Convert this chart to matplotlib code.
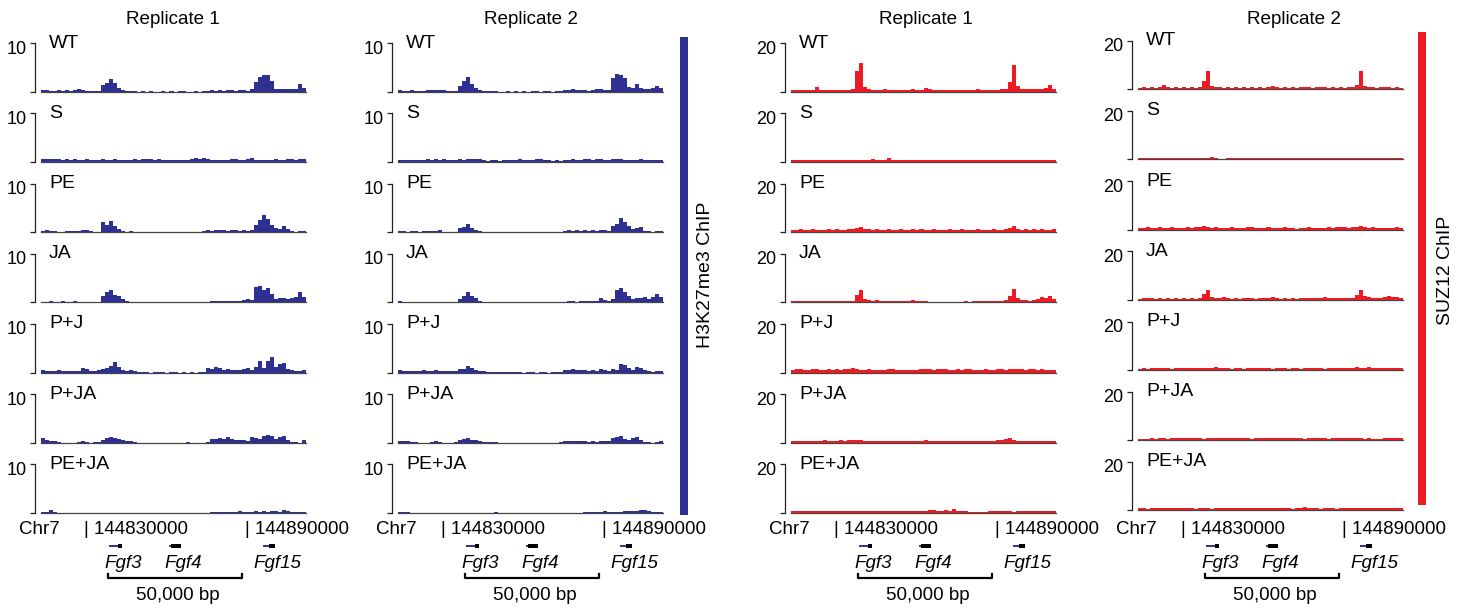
import numpy as np
import matplotlib.pyplot as plt
from matplotlib.patches import Rectangle
from matplotlib.transforms import ScaledTranslation

plt.rcParams['font.family'] = ['Liberation Sans', 'DejaVu Sans']

# ---- data -------------------------------------------------------------
conditions = ["WT", "S", "PE", "JA", "P+J", "P+JA", "PE+JA"]

region_start = 144814000
region_end = 144912700
coord_marks = [144830000, 144890000]

gene_names = ["Fgf3", "Fgf4", "Fgf15"]
gene_starts = [144839300, 144861700, 144896700]
gene_ends = [144844200, 144866200, 144901200]
gene_cds_starts = [144842600, 144862400, 144899000]   # black (coding) part
scale_bar = [144839000, 144889000]
scale_label = "50,000 bp"

h3_max = 10
suz_max = 20

h3_rep1 = {
    "WT": [0.3, 0.3, 0.2, 0.2, 0.3, 0.2, 0.3, 0.2, 0.4, 0.5, 0.3, 0.2, 0.2, 0.1, 0.2,
           1.4, 1.8, 2.6, 1.8, 0.8, 0.4, 0.2,
           0.1, 0.1, 0.0, 0.1, 0.0, 0.1, 0.0, 0.0, 0.1, 0.0, 0.1, 0.0, 0.1, 0.1, 0.0, 0.0, 0.1, 0.0, 0.1,
           0.2, 0.4, 0.2, 0.3, 0.2, 0.4, 0.3, 0.2, 0.4, 0.3, 0.2,
           0.5, 2.0, 3.0, 3.5, 3.4, 2.2, 0.6, 0.5, 0.6, 0.5, 0.5, 0.6, 1.5, 0.8],
    "S": [0.5, 0.6, 0.7, 0.5, 0.6, 0.4, 0.5, 0.4, 0.5, 0.3, 0.4, 0.5, 0.3, 0.4, 0.3, 0.5, 0.4, 0.3,
          0.6, 0.4, 0.3, 0.4, 0.3, 0.5, 0.4, 0.6, 0.5, 0.6, 0.4, 0.5, 0.4, 0.3, 0.4, 0.3, 0.4, 0.3,
          0.4, 0.6, 0.9, 0.6, 0.8, 0.5, 0.3, 0.4, 0.3, 0.4, 0.3, 0.6, 0.5, 0.4, 0.3, 0.7, 0.9, 0.4,
          0.3, 0.3, 0.4, 0.3, 0.5, 0.4, 0.3, 0.5, 0.6, 0.4, 0.5, 0.6],
    "PE": [0.3, 0.4, 0.3, 0.2, 0.1, 0.0, 0.2, 0.3, 0.2, 0.3, 0.4, 0.5, 0.2, 0.0, 0.1,
           2.0, 1.4, 2.2, 1.2, 0.6, 0.3, 0.1,
           0.2, 0.1, 0.0, 0.0, 0.0, 0.0, 0.0, 0.0, 0.0, 0.1, 0.0, 0.0, 0.0, 0.0, 0.0, 0.0, 0.0, 0.0,
           0.3, 0.4, 0.3, 0.5, 0.4, 0.4, 0.3, 0.5, 0.4, 0.3, 0.5, 0.3, 0.4,
           1.5, 2.4, 3.6, 2.8, 1.4, 0.9, 0.6, 1.2, 0.7, 0.3, 0.0, 0.3, 0.3],
    "JA": [0.1, 0.1, 0.2, 0.1, 0.1, 0.2, 0.1, 0.1, 0.2, 0.1, 0.1, 0.1, 0.0, 0.0, 0.1,
           1.2, 2.2, 2.6, 1.5, 1.3, 0.6, 0.2,
           0.1, 0.0, 0.0, 0.0, 0.0, 0.0, 0.0, 0.0, 0.0, 0.0, 0.0, 0.0, 0.0, 0.0, 0.0, 0.0, 0.0, 0.0,
           0.0, 0.1,
           0.3, 0.2, 0.3, 0.3, 0.2, 0.3, 0.2, 0.3, 0.5, 0.6, 0.4,
           3.2, 3.4, 2.6, 3.0, 1.8, 0.6, 0.8, 0.9, 0.7, 0.8, 1.0, 2.2, 1.0],
    "P+J": [0.5, 0.4, 0.4, 0.3, 0.5, 0.4, 0.3, 0.4, 0.3, 0.4, 1.0, 0.8, 0.4, 0.3, 0.6,
            0.8, 0.9, 1.4, 2.2, 1.2, 0.6, 0.4, 0.5, 0.3,
            0.1, 0.1, 0.1, 0.0, 0.1, 0.1, 0.1, 0.0, 0.1, 0.1, 0.0, 0.1, 0.0, 0.1, 0.0, 0.1, 0.1,
            1.0, 0.7, 1.2, 1.0, 0.6, 0.7, 0.5, 0.6, 0.5, 0.7, 0.9, 0.6,
            1.2, 2.4, 1.0, 2.4, 3.2, 1.2, 1.8, 1.9, 0.7, 0.5, 0.3, 0.4, 0.5],
    "P+JA": [0.9, 0.6, 0.4, 0.4, 0.1, 0.0, 0.0, 0.0, 0.0, 0.1, 0.4, 0.2, 0.0, 0.1, 0.1,
             0.6, 0.9, 1.2, 1.0, 0.8, 0.6, 0.3, 0.3, 0.1, 0.0,
             0.0, 0.0, 0.0, 0.0, 0.0, 0.0, 0.0, 0.0, 0.0, 0.0, 0.0, 0.1, 0.0, 0.0, 0.0, 0.0, 0.1,
             0.7, 0.8, 0.9, 0.7, 1.2, 0.7, 0.6, 0.6, 0.5, 0.4,
             1.1, 0.9, 0.8, 1.4, 1.6, 1.4, 0.8, 1.1, 1.3, 0.6, 0.2, 0.1, 0.0, 0.5],
    "PE+JA": [0.2, 0.2, 0.5, 0.1, 0.0,
              0.0, 0.0, 0.0, 0.0, 0.0, 0.0, 0.0, 0.0, 0.0, 0.0, 0.0, 0.0, 0.0, 0.0, 0.0, 0.0, 0.0,
              0.0, 0.0, 0.0, 0.0, 0.0, 0.0, 0.0, 0.0, 0.0, 0.0, 0.0, 0.0, 0.0, 0.0, 0.0, 0.0, 0.0,
              0.0, 0.0, 0.0,
              0.2, 0.1, 0.2, 0.1, 0.1, 0.2, 0.1, 0.3, 0.1, 0.2, 0.1, 0.3, 0.2, 0.3, 0.2, 0.3, 0.4,
              0.2, 0.5, 0.3, 0.2, 0.1, 0.2, 0.2],
}

# H3K27me3 ChIP, replicate 2
h3_rep2 = {
    "WT": [0.3, 0.2, 0.2, 0.3, 0.2, 0.2, 0.2, 0.3, 0.4, 0.3, 0.4, 0.3, 0.2, 0.1, 0.1,
           1.2, 2.2, 3.0, 1.6, 0.7, 0.3, 0.2,
           0.1, 0.1, 0.1, 0.0, 0.0, 0.1, 0.0, 0.1, 0.0, 0.1, 0.0, 0.1, 0.1, 0.0, 0.1, 0.1, 0.0, 0.1, 0.2,
           0.3, 0.4, 0.6, 0.4, 0.3, 0.3, 0.2, 0.3, 0.5, 0.6, 0.4, 0.3,
           2.8, 3.6, 3.5, 2.8, 1.0, 0.8, 1.5, 0.8, 0.6, 0.5, 0.8, 1.1, 0.8],
    "S": [0.4, 0.3, 0.4, 0.3, 0.4, 0.4, 0.3, 0.5, 0.4, 0.6, 0.3, 0.5, 0.4, 0.3, 0.3, 0.5, 0.3, 0.5,
          0.6, 0.7, 0.6, 0.3, 0.2, 0.3, 0.3, 0.2, 0.3, 0.4, 0.3, 0.3, 0.5, 0.4, 0.3, 0.4, 0.5, 0.6,
          0.4, 0.3, 0.2, 0.3, 0.2, 0.3, 0.4, 0.5, 0.4, 0.3, 0.5, 0.6, 0.4, 0.7, 0.5, 0.3, 0.4, 0.6,
          0.7, 0.5, 0.4, 0.3, 0.4, 0.3, 0.5, 0.4, 0.3, 0.4, 0.3, 0.4],
    "PE": [0.3, 0.2, 0.1, 0.2, 0.2, 0.1, 0.2, 0.3, 0.2, 0.3, 0.4, 0.0, 0.0, 0.0, 0.0,
           0.9, 1.0, 1.6, 0.9, 0.4, 0.3, 0.1,
           0.1, 0.0, 0.1, 0.0, 0.0, 0.0, 0.0, 0.0, 0.0, 0.0, 0.0, 0.0, 0.0, 0.0, 0.0, 0.0, 0.0, 0.0, 0.1,
           0.3, 0.4, 0.3, 0.4, 0.3, 0.5, 0.3, 0.4, 0.3, 0.5, 0.4, 0.3,
           1.2, 1.6, 3.0, 2.0, 1.2, 0.6, 0.8, 1.1, 0.3, 0.2, 0.1, 0.2, 0.2],
    "JA": [0.2, 0.1, 0.1, 0.1, 0.1, 0.1, 0.1, 0.1, 0.1, 0.1, 0.1, 0.1, 0.1, 0.1, 0.1,
           0.6, 1.4, 2.2, 1.2, 0.8, 0.3, 0.1,
           0.0, 0.1, 0.0, 0.0, 0.0, 0.0, 0.0, 0.0, 0.0, 0.0, 0.0, 0.0, 0.0, 0.0, 0.0, 0.0, 0.0, 0.0,
           0.0, 0.1,
           0.2, 0.2, 0.1, 0.2, 0.3, 0.2, 0.2, 0.3, 0.8, 0.4, 0.3, 0.6,
           2.6, 3.0, 2.2, 1.4, 0.6, 0.8, 0.9, 1.0, 0.7, 1.0, 1.8, 1.0],
    "P+J": [0.5, 0.4, 0.3, 0.3, 0.3, 0.4, 0.5, 0.3, 0.4, 0.5, 0.4, 0.3, 0.4, 0.3, 0.4,
            0.8, 0.7, 1.3, 1.0, 0.5, 0.4, 0.3,
            0.2, 0.1, 0.1, 0.1, 0.1, 0.1, 0.1, 0.1, 0.1, 0.0, 0.1, 0.1, 0.0, 0.1, 0.1, 0.0, 0.1, 0.1, 0.2,
            0.5, 0.6, 0.7, 0.5, 0.6, 0.5, 0.4, 0.5, 0.4, 0.8, 0.5, 0.4, 0.7, 0.6,
            1.8, 1.5, 1.0, 0.6, 1.1, 0.9, 0.5, 0.3, 0.2, 0.3, 0.3],
    "P+JA": [0.4, 0.4, 0.4, 0.2, 0.1, 0.0, 0.0, 0.0, 0.2, 0.3, 0.1, 0.0, 0.0, 0.0, 0.1,
             0.5, 0.7, 0.9, 0.6, 0.5, 0.3, 0.1,
             0.2, 0.1, 0.2, 0.0, 0.0, 0.0, 0.0, 0.0, 0.0, 0.0, 0.0, 0.0, 0.0, 0.0, 0.0, 0.0, 0.0, 0.0, 0.1,
             0.3, 0.4, 0.3, 0.4, 0.3, 0.3, 0.2, 0.3, 0.2, 0.4, 0.3, 0.4,
             0.9, 1.1, 1.3, 0.8, 0.6, 1.0, 1.1, 0.6, 0.2, 0.1, 0.0, 0.2, 0.3],
    "PE+JA": [0.1, 0.1, 0.1, 0.0, 0.0,
              0.0, 0.0, 0.0, 0.0, 0.0, 0.0, 0.0, 0.0, 0.0, 0.0, 0.0, 0.0, 0.0, 0.0, 0.0, 0.0, 0.0,
              0.0, 0.0, 0.1, 0.0, 0.0, 0.0, 0.0, 0.0, 0.0, 0.0, 0.0, 0.0, 0.0, 0.0, 0.0, 0.0, 0.0,
              0.0, 0.0, 0.0, 0.0, 0.0, 0.0, 0.0,
              0.2, 0.2, 0.1, 0.1, 0.2, 0.3, 0.2, 0.1, 0.2, 0.2, 0.3, 0.4, 0.3, 0.4, 0.5, 0.6,
              0.3, 0.2, 0.1, 0.1],
}

# SUZ12 ChIP, replicate 1
suz_rep1 = {
    "WT": [0.7, 0.9, 0.6, 0.8, 0.9, 0.6, 1.8, 0.9, 0.7, 0.9, 0.6, 0.8, 0.9, 0.6, 0.8,
           1.0, 8.5, 12.0, 1.8,
           1.0, 0.9, 0.8, 0.9, 1.0, 0.8, 0.6, 0.9, 0.8, 0.9, 0.8, 1.0, 0.8, 0.9, 1.6, 1.0, 0.8,
           0.6, 0.9, 0.6, 0.5, 0.6, 0.8, 0.9, 0.6, 0.8, 0.9, 1.0, 0.8, 0.9, 0.6, 0.8, 0.9, 1.0, 1.3,
           4.0, 11.0, 2.5,
           1.2, 1.1, 1.0, 1.2, 1.1, 1.3, 1.5, 2.8, 1.3],
    "S": [0.8, 0.6, 0.8, 0.6, 0.8, 0.6, 0.8, 0.6, 0.6, 0.8, 0.6, 0.8, 0.6, 0.6, 0.8, 0.6, 0.8,
          0.6, 0.8, 0.9, 1.0, 0.8, 0.6, 0.9, 1.6, 0.9, 0.8, 0.6, 0.8, 0.6, 0.8, 0.6, 0.8, 0.6,
          0.8, 0.9, 0.8, 0.6, 0.8, 0.6, 0.8, 0.6, 0.8, 0.9, 0.6, 0.8, 0.6, 0.8, 0.9, 0.6, 0.8,
          0.6, 0.8, 0.6, 0.8, 0.6, 0.8, 0.6, 0.8, 0.6, 0.8, 0.6, 0.8, 0.6, 0.8, 0.6],
    "PE": [1.0, 0.8, 1.2, 0.8, 1.0, 1.1, 0.8, 1.0, 0.8, 1.1, 1.0, 1.2, 0.8, 1.0, 1.1,
           1.3, 1.7, 2.0, 1.1,
           1.1, 1.0, 1.2, 0.8, 1.0, 1.1, 0.8, 1.0, 1.2, 0.8, 1.0, 1.1, 0.8, 1.2, 1.0, 0.8, 1.1,
           1.0, 0.8, 1.0, 1.1, 0.8, 1.0, 1.1, 1.0, 0.8, 1.0, 1.1, 0.8, 1.0, 0.8, 1.1, 1.0, 0.8, 1.1,
           1.8, 2.6, 1.3,
           1.0, 1.1, 0.8, 1.2, 1.0, 1.1, 0.8, 1.0, 1.1],
    "JA": [0.6, 0.4, 0.6, 0.4, 0.6, 0.4, 0.6, 0.4, 0.6, 0.4, 0.6, 0.4, 0.6, 0.4, 0.6,
           0.7, 3.0, 5.0, 1.2,
           0.9, 0.7, 1.0, 0.6, 0.4, 0.6, 0.4, 0.6, 0.4, 0.6, 0.4, 0.9, 0.6, 0.7, 0.4, 0.2, 0.2,
           0.2, 0.2, 0.2, 0.2, 0.2, 0.2, 0.2, 0.4, 0.2, 0.4, 0.6, 0.4, 0.6, 0.7, 0.6, 0.7, 0.6, 0.9,
           2.8, 5.4, 1.8,
           1.0, 0.9, 0.7, 1.0, 1.3, 2.0, 1.8, 2.4, 1.5],
    "P+J": [1.0, 1.5, 1.3, 1.0, 1.2, 1.5, 1.3, 1.0, 1.2, 1.3, 1.0, 1.5, 1.2, 1.3, 1.5, 1.9, 1.6,
            1.2, 1.0, 1.3, 1.0, 1.2, 0.9, 1.2, 1.3, 1.5, 1.2, 1.0, 1.2, 1.0, 0.9, 1.2, 1.3, 1.5,
            1.3, 1.2, 1.5, 1.6, 1.3, 1.2, 1.0, 1.3, 1.2, 1.5, 1.3, 1.2, 1.0, 1.2, 1.3, 1.0, 1.2,
            1.3, 1.5, 1.2, 1.6, 1.5, 1.3, 1.5, 1.2, 1.3, 1.5, 1.2, 1.3, 1.0, 1.2, 1.0],
    "P+JA": [0.6, 0.8, 0.6, 0.9, 0.8, 0.6, 0.9, 0.8, 1.0, 0.9, 0.6, 0.9, 1.0, 0.9, 1.0, 1.2, 1.3,
             1.0, 0.9, 0.8, 0.9, 0.8, 0.6, 0.8, 0.6, 0.8, 0.9, 0.6, 0.8, 0.6, 0.8, 0.9, 0.8, 1.0,
             0.8, 0.9, 0.8, 0.9, 0.8, 0.6, 0.8, 0.6, 0.9, 0.8, 0.6, 0.8, 0.9, 0.6, 0.8, 0.9, 0.8,
             1.0, 1.2, 1.5, 2.0, 1.2, 0.9, 0.8, 0.9, 0.8, 0.6, 0.8, 0.9, 0.8, 0.6, 0.8],
    "PE+JA": [0.8, 0.9, 0.8, 0.9, 0.6, 0.8, 0.9, 0.8, 0.6, 0.9, 0.8, 0.6, 0.9, 0.8, 0.6, 0.9, 0.8,
              0.6, 0.8, 0.9, 0.8, 0.9, 0.6, 0.8, 0.9, 0.8, 0.6, 0.8, 0.9, 0.8, 0.6, 0.8, 0.6, 0.8,
              1.0, 1.3, 0.9, 0.8, 1.3, 0.9, 1.6, 0.8, 0.6, 0.8, 0.3, 0.3, 0.3, 0.3, 0.3, 0.8, 0.9,
              0.8, 0.9, 0.6, 0.8, 0.5, 0.8, 0.9, 0.8, 0.6, 0.9, 0.8, 0.9, 0.8, 0.6, 0.8],
}

# SUZ12 ChIP, replicate 2
suz_rep2 = {
    "WT": [0.6, 0.8, 0.6, 0.8, 0.6, 0.8, 1.6, 0.8, 0.6, 0.8, 0.6, 0.8, 0.6, 0.8, 0.6, 0.9, 3.5,
           7.5, 1.2, 0.9, 0.8, 0.6, 0.8, 0.6, 0.8, 0.6, 0.8, 0.6, 0.8, 0.6, 0.8, 0.6, 0.8, 1.5,
           0.9, 0.6, 0.8, 0.6, 0.8, 0.6, 0.8, 0.9, 0.8, 0.6, 0.8, 0.9, 0.8, 0.6, 0.8, 0.6, 0.8,
           0.6, 0.9, 1.0, 1.8, 7.5, 1.5, 0.9, 0.8, 0.6, 0.8, 0.9, 0.8, 0.6, 0.8, 0.6],
    "S": [0.4, 0.6, 0.4, 0.4, 0.6, 0.4, 0.6, 0.4, 0.6, 0.4, 0.6, 0.4, 0.4, 0.6, 0.4, 0.6, 0.4,
          0.6, 1.0, 0.4, 0.2, 0.2, 0.6, 0.6, 0.4, 0.6, 0.4, 0.6, 0.6, 0.7, 0.6, 0.4, 0.6, 0.4,
          0.6, 0.4, 0.4, 0.6, 0.7, 0.6, 0.7, 0.6, 0.7, 0.7, 0.6, 0.6, 0.4, 0.6, 0.4, 0.6, 0.4,
          0.6, 0.4, 0.4, 0.6, 0.4, 0.6, 0.4, 0.6, 0.4, 0.6, 0.4, 0.6, 0.4, 0.6, 0.6],
    "PE": [0.8, 0.6, 0.9, 0.8, 0.6, 0.9, 0.8, 0.6, 0.9, 0.8, 0.6, 0.8, 0.9, 0.8, 0.9, 1.1, 1.3,
           0.9, 0.8, 0.9, 0.8, 0.6, 0.8, 0.9, 0.8, 0.6, 0.8, 1.0, 0.9, 0.8, 0.6, 0.8, 0.9, 0.8,
           0.6, 0.8, 1.0, 0.8, 0.6, 0.3, 0.6, 0.8, 0.9, 0.6, 0.8, 0.6, 0.8, 0.9, 0.8, 1.0, 1.1,
           0.9, 0.8, 0.9, 1.0, 1.6, 1.1, 0.8, 0.9, 0.8, 0.6, 0.8, 0.6, 0.8, 0.9, 0.8],
    "JA": [0.4, 0.6, 0.8, 0.6, 0.4, 0.6, 0.4, 0.6, 0.4, 0.6, 0.4, 0.6, 0.4, 0.6, 0.4, 0.8, 2.2,
           4.2, 1.1, 0.9, 0.8, 1.0, 0.6, 0.4, 0.6, 0.4, 0.6, 0.8, 0.6, 0.4, 0.6, 0.8, 0.6, 1.3,
           0.6, 0.4, 0.6, 0.4, 0.6, 0.4, 0.6, 0.8, 0.6, 0.8, 0.9, 0.8, 1.0, 0.8, 0.9, 0.8, 0.6,
           0.8, 0.6, 0.9, 1.8, 4.0, 1.6, 1.0, 0.9, 0.8, 0.9, 1.3, 1.4, 1.3, 1.0, 0.8],
    "P+J": [0.6, 0.8, 0.6, 0.9, 1.0, 0.9, 0.8, 0.9, 0.6, 0.8, 0.9, 1.0, 0.8, 0.9, 1.0, 0.9, 1.0,
            0.8, 0.9, 1.4, 0.8, 0.9, 0.8, 0.6, 0.8, 0.9, 0.6, 0.8, 0.9, 0.8, 0.9, 0.8, 0.9, 0.6,
            0.8, 0.9, 0.8, 0.6, 0.9, 0.8, 0.6, 0.8, 0.9, 0.8, 0.9, 0.8, 0.6, 0.9, 0.8, 1.0, 0.9,
            0.8, 1.0, 0.9, 1.1, 1.0, 0.9, 1.1, 1.0, 0.9, 1.0, 0.9, 0.8, 0.9, 1.0, 0.9],
    "P+JA": [0.4, 0.6, 0.4, 0.8, 0.6, 0.8, 0.9, 0.6, 0.9, 0.8, 1.0, 0.9, 0.8, 0.9, 1.0, 0.8, 0.6,
             0.9, 0.8, 1.0, 0.9, 0.8, 0.9, 0.8, 0.9, 0.8, 0.9, 0.8, 0.6, 0.9, 1.0, 1.1, 1.0, 0.9,
             1.0, 0.9, 0.8, 0.9, 0.8, 0.9, 0.8, 0.6, 0.8, 0.9, 0.8, 0.9, 0.8, 0.6, 0.9, 1.0, 1.1,
             1.0, 0.9, 1.0, 0.9, 0.8, 0.6, 0.8, 0.6, 0.4, 0.6, 0.8, 0.9, 0.8, 0.9, 0.8],
    "PE+JA": [0.8, 0.9, 0.6, 0.8, 0.9, 0.8, 0.9, 1.0, 0.9, 1.0, 0.9, 0.8, 0.9, 0.8, 0.6, 0.8, 0.9,
              0.8, 0.6, 0.9, 1.0, 0.9, 0.8, 0.9, 1.0, 0.9, 0.8, 0.9, 0.8, 0.9, 1.0, 0.9, 1.0, 0.9,
              0.8, 1.0, 0.9, 0.8, 0.6, 0.8, 0.9, 1.5, 0.9, 0.8, 0.9, 0.6, 0.8, 0.9, 0.8, 0.6, 0.8,
              0.9, 1.0, 0.9, 0.8, 0.9, 1.0, 0.9, 0.8, 0.9, 0.8, 0.9, 0.8, 0.9, 0.8, 0.9],
}

# ---- layout -----------------------------------------------------------
W, H = 1466, 609
navy = "#2E3192"
red = "#ED1C24"
fs_tick = 13
fs_label = 14
fs_title = 13.6
fs_annot = 13.5

fig = plt.figure(figsize=(W / 100, H / 100), dpi=100)


def px_axes(left, top, width, height):
    return fig.add_axes([left / W, 1 - (top + height) / H, width / W, height / H])


track_w = 265
track_h = 48.5
row_step = 70.2
first_base = 91.7

columns = [
    # tracks, colour, ymax, data left px, y shift px, title, title x px
    (h3_rep1, navy, h3_max, 41, 0.0, "Replicate 1", 173),
    (h3_rep2, navy, h3_max, 398, 0.0, "Replicate 2", 531),
    (suz_rep1, red, suz_max, 791, 0.0, "Replicate 1", 926),
    (suz_rep2, red, suz_max, 1138, -2.5, "Replicate 2", 1294),
]

bp_per_px = (region_end - region_start) / track_w
label_shift = ScaledTranslation(0, -4 / 100, fig.dpi_scale_trans)

for tracks, color, ymax, x0, dy, title, title_x in columns:
    fig.text(title_x / W, 1 - 20 / H, title, ha="center", va="center", fontsize=fs_title)

    for i, cond in enumerate(conditions):
        base = first_base + row_step * i + dy
        ax = px_axes(x0, base - track_h, track_w, track_h)
        vals = np.array(tracks[cond])
        edges = np.linspace(region_start, region_end, len(vals) + 1)
        ax.stairs(vals, edges, fill=True, color=color, linewidth=0, zorder=3)
        ax.set_xlim(region_start, region_end)
        ax.set_ylim(0, ymax)
        for s in ["top", "right"]:
            ax.spines[s].set_visible(False)
        ax.spines["left"].set_position(("outward", 4.3))
        ax.spines["left"].set_linewidth(0.9)
        ax.spines["left"].set_color("#222222")
        ax.spines["bottom"].set_linewidth(0.9)
        ax.spines["bottom"].set_color("#444444")
        ax.spines["bottom"].set_zorder(1)
        ax.set_xticks([])
        ax.set_yticks([0, ymax])
        ax.set_yticklabels(["", str(ymax)])
        ax.tick_params(axis="y", length=3.5, width=0.9, color="#222222",
                       pad=2.5, labelsize=fs_tick)
        for lbl in ax.get_yticklabels():
            lbl.set_transform(lbl.get_transform() + label_shift)
        ax.patch.set_alpha(0)
        ax.text(0.03, 1.0, cond, transform=ax.transAxes, ha="left",
                va="center", fontsize=fs_label)

    # locus annotation under the column
    an = px_axes(x0, 515 + dy, track_w, 90)
    an.set_xlim(region_start, region_end)
    an.set_ylim(605 + dy, 515 + dy)
    an.axis("off")
    an.text(region_start - 22 * bp_per_px, 530, "Chr7", ha="left", va="center",
            fontsize=fs_annot)
    for c in coord_marks:
        an.text(c, 530, "| " + str(c), ha="left", va="center", fontsize=fs_annot)
    for name, gs, ge, cs in zip(gene_names, gene_starts, gene_ends, gene_cds_starts):
        an.plot([gs, ge], [545.5, 545.5], color=navy, lw=1.4, solid_capstyle="butt")
        an.add_patch(Rectangle((cs, 543.5), ge - cs, 4.5, color="black", lw=0, zorder=3))
        an.text((gs + ge) / 2 + 8 * bp_per_px, 563, name, ha="center", va="center",
                fontsize=fs_annot, style="italic")
    b0, b1 = scale_bar
    an.plot([b0, b0, b1, b1], [574, 578, 578, 574], color="black", lw=1.6)
    an.text((b0 + b1) / 2 + 3 * bp_per_px, 595, scale_label, ha="center",
            va="center", fontsize=fs_annot)

# coloured side bars with assay names
fig.add_artist(Rectangle((680 / W, 1 - 515 / H), 8 / W, (515 - 37) / H,
                         transform=fig.transFigure, color=navy, lw=0))
fig.text(706 / W, 1 - 275 / H, "H3K27me3 ChIP", rotation=90, ha="center",
         va="center", fontsize=fs_label)
fig.add_artist(Rectangle((1418 / W, 1 - 505 / H), 8 / W, (505 - 32) / H,
                         transform=fig.transFigure, color=red, lw=0))
fig.text(1446 / W, 1 - 270 / H, "SUZ12 ChIP", rotation=90, ha="center",
         va="center", fontsize=fs_label)

fig.savefig("out.png", dpi=100)
